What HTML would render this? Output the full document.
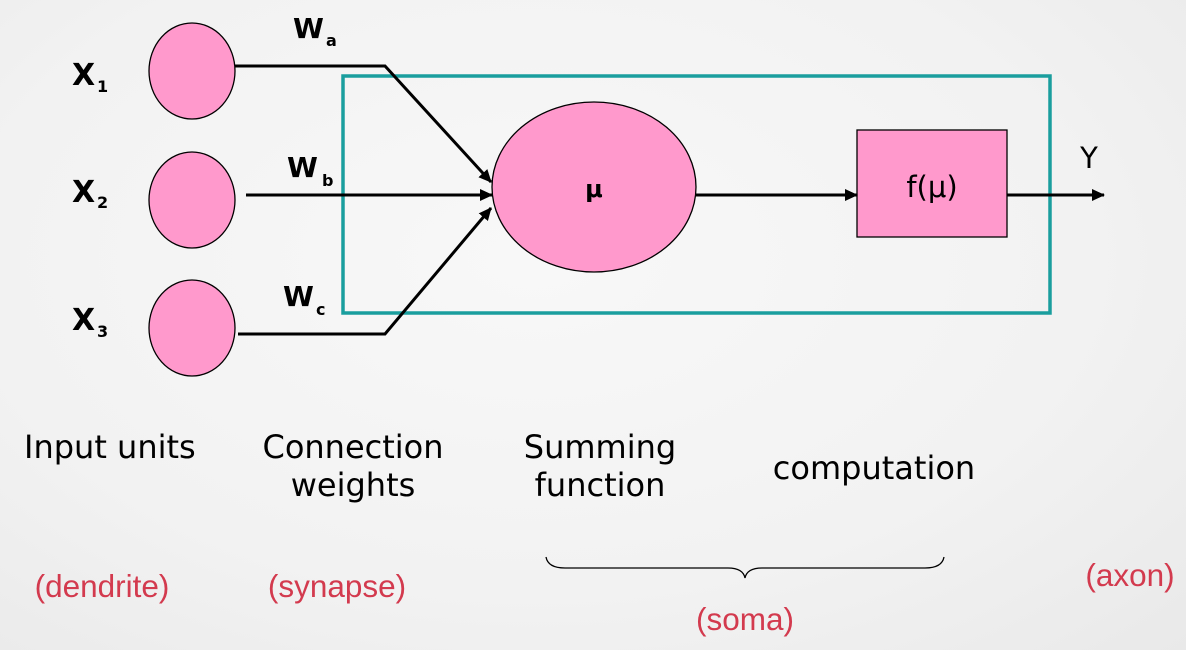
<!DOCTYPE html>
<html><head><meta charset="utf-8"><style>
html,body{margin:0;padding:0;}
body{width:1186px;height:650px;overflow:hidden;background:radial-gradient(ellipse at 45% 40%,#f8f8f8 0%,#f2f2f2 60%,#e9e9e9 100%);}
svg{display:block}
.b{font-family:"DejaVu Sans",sans-serif;font-weight:bold;fill:#000}
.t{font-family:"DejaVu Sans",sans-serif;font-size:32px;fill:#000}
.r{font-family:"Liberation Sans",sans-serif;font-size:31.5px;fill:#d33a4e}
</style></head><body>
<svg width="1186" height="650" viewBox="0 0 1186 650">
<defs><marker id="a" markerWidth="13" markerHeight="12" refX="12" refY="6" orient="auto" markerUnits="userSpaceOnUse"><path d="M0,0 L13,6 L0,12 Z" fill="#000"/></marker></defs>
<rect x="343" y="76" width="707" height="237" fill="none" stroke="#1a9e9e" stroke-width="3.5"/>
<g fill="#ff99cc" stroke="#000" stroke-width="1.3">
<ellipse cx="192" cy="71" rx="43" ry="48"/>
<ellipse cx="192" cy="200" rx="43" ry="48"/>
<ellipse cx="192" cy="328" rx="43" ry="48"/>
<ellipse cx="594" cy="187" rx="102" ry="85"/>
<rect x="857" y="130" width="150" height="107"/>
</g>
<g stroke="#000" stroke-width="3" fill="none">
<polyline points="235,66 385,66 491,182" marker-end="url(#a)"/>
<line x1="246" y1="195" x2="492" y2="195" marker-end="url(#a)"/>
<polyline points="238,334 385,334 491,208" marker-end="url(#a)"/>
<line x1="696" y1="195" x2="857" y2="195" marker-end="url(#a)"/>
<line x1="1007" y1="195" x2="1104" y2="195" marker-end="url(#a)"/>
</g>
<text class="b" x="72" y="85" font-size="30">X</text><text class="b" x="97" y="92" font-size="16">1</text>
<text class="b" x="72" y="202" font-size="30">X</text><text class="b" x="97" y="208" font-size="16">2</text>
<text class="b" x="72" y="330" font-size="30">X</text><text class="b" x="97" y="337" font-size="16">3</text>
<text class="b" x="293" y="38" font-size="28">W</text><text class="b" x="326" y="46" font-size="16">a</text>
<text class="b" x="287" y="177" font-size="28">W</text><text class="b" x="322" y="186" font-size="16">b</text>
<text class="b" x="283" y="306" font-size="28">W</text><text class="b" x="316" y="315" font-size="16">c</text>
<text class="b" x="594" y="197" font-size="24" text-anchor="middle">μ</text>
<text x="932" y="197" font-family="DejaVu Sans,sans-serif" font-size="29" text-anchor="middle">f(μ)</text>
<text x="1089" y="168" font-family="DejaVu Sans,sans-serif" font-size="29" text-anchor="middle">Y</text>
<text class="t" x="24" y="458">Input units</text>
<text class="t" x="353" y="458" text-anchor="middle">Connection</text>
<text class="t" x="353" y="496" text-anchor="middle">weights</text>
<text class="t" x="600" y="458" text-anchor="middle">Summing</text>
<text class="t" x="600" y="496" text-anchor="middle">function</text>
<text class="t" x="874" y="479" text-anchor="middle">computation</text>
<path d="M546,557 Q548,568 565,568 L728,568 Q743,568 745,578 Q747,568 762,568 L925,568 Q942,568 944,557" fill="none" stroke="#000" stroke-width="1.3"/>
<text class="r" x="102" y="597" text-anchor="middle">(dendrite)</text>
<text class="r" x="337" y="597" text-anchor="middle">(synapse)</text>
<text class="r" x="745" y="630" text-anchor="middle">(soma)</text>
<text class="r" x="1130" y="586" text-anchor="middle">(axon)</text>
</svg>
</body></html>
